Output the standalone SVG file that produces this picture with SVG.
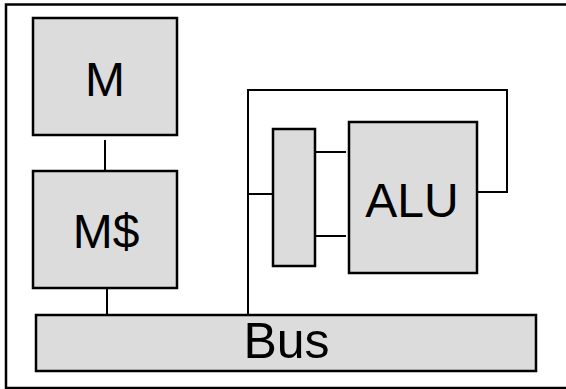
<svg xmlns="http://www.w3.org/2000/svg" width="566" height="389" viewBox="0 0 566 389">
<style>
.box{fill:#dcdcdc;stroke:#000;stroke-width:2.5}
.lbl{font-family:"Liberation Sans",Arial,sans-serif;font-size:48px;fill:#000;text-anchor:middle}
.wire{fill:none;stroke:#000;stroke-width:2}
</style>
<rect x="0" y="0" width="566" height="389" fill="#fff"/>
<rect id="frame" x="6" y="4.5" width="620" height="383.5" fill="none" stroke="#000" stroke-width="2.5"/>
<g id="connectors">
<line class="wire" x1="105" y1="140" x2="105" y2="171"/>
<line class="wire" x1="107" y1="287" x2="107" y2="315"/>
<polyline class="wire" points="248,315 248,90 507,90 507,192 477,192"/>
<line class="wire" x1="247" y1="194" x2="274" y2="194"/>
<line class="wire" x1="315" y1="152" x2="346" y2="152"/>
<line class="wire" x1="315" y1="236" x2="346" y2="236"/>
</g>
<g id="M">
<rect class="box" x="33" y="18" width="144" height="117"/>
<text class="lbl" x="105" y="96">M</text>
</g>
<g id="Mcache">
<rect class="box" x="33" y="171" width="144" height="117"/>
<text class="lbl" x="106" y="248">M$</text>
</g>
<g id="mux">
<rect class="box" x="273" y="129" width="42" height="137"/>
</g>
<g id="ALU">
<rect class="box" x="349" y="122" width="128" height="151"/>
<text class="lbl" x="412" y="217">ALU</text>
</g>
<g id="Bus">
<rect class="box" x="36" y="315" width="500" height="56"/>
<text class="lbl" x="286.5" y="357.5" style="font-size:50px">Bus</text>
</g>
</svg>
